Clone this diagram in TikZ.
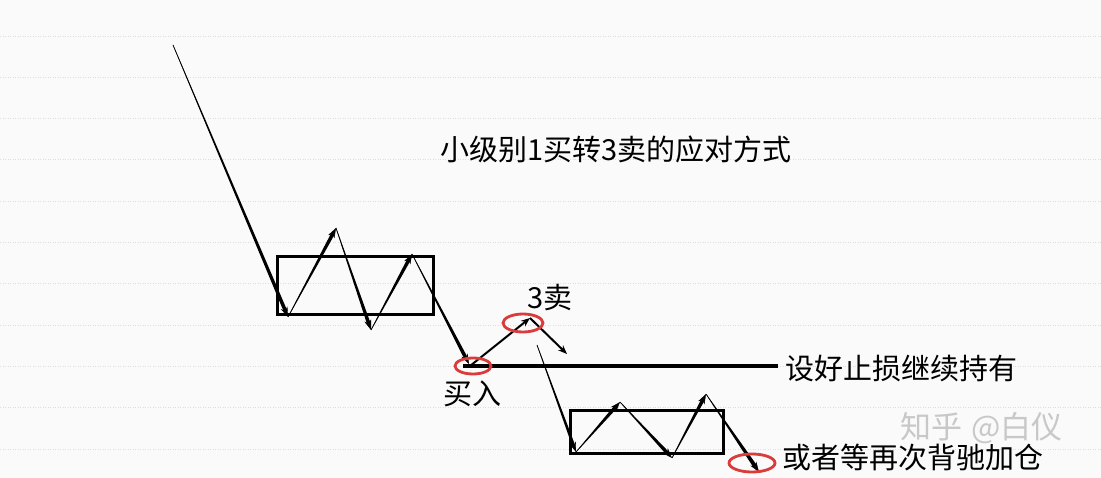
\documentclass[tikz,border=0pt]{standalone}
\usepackage{fontspec}
\setmainfont{Noto Sans CJK SC}
\usetikzlibrary{calc,arrows.meta}
\definecolor{bg}{RGB}{250,250,250}
\definecolor{gridc}{RGB}{222,222,222}
\definecolor{ring}{RGB}{218,60,60}
\definecolor{wm}{RGB}{200,200,200}
% tapered arrow: thin at start, #3 half-width near the end, arrow tip at end
\newcommand\taparrow[3]{%
  \coordinate (tmpE) at ($(#2)!7pt!(#1)$);
  \fill ($(#1)!0.3pt!90:(#2)$) -- ($(tmpE)!#3!-90:(#1)$) -- ($(tmpE)!#3!90:(#1)$) -- ($(#1)!0.3pt!-90:(#2)$) -- cycle;
  \draw[tiparrow] (#1) -- (#2);
}
\begin{document}
\begin{tikzpicture}[x=1pt,y=-1pt,
  tiparrow/.style={line width=0.4pt,-{Stealth[length=10pt,width=7pt]}},
  flatarrow/.style={line width=2pt,-{Stealth[length=9pt,width=7pt]}},
  boxline/.style={draw=black,line width=3pt},
  gridline/.style={draw=gridc,line width=0.8pt,dash pattern=on 1pt off 1.5pt},
  ringline/.style={draw=ring,line width=2.8pt},
  txt/.style={inner sep=0pt,anchor=west,font=\fontsize{29pt}{31pt}\selectfont},
  wmtxt/.style={inner sep=0pt,anchor=west,text=wm,font=\fontsize{31pt}{33pt}\selectfont}]
\useasboundingbox (0,0) rectangle (1101,478);
\fill[bg] (0,0) rectangle (1101,478);
% dotted grid
\foreach \k in {0,...,10}{
  \draw[gridline] (0,{36+41.3*\k}) -- (1101,{36+41.3*\k});
}
% watermark
\node[wmtxt] (wmark) at (900,428) {知乎\hspace{0.3em}@白仪};
% boxes
\draw[boxline] (277,257) rectangle (433,315);
\draw[boxline] (570,410) rectangle (723,453);
% stop line
\coordinate (s0) at (463,366);
\coordinate (s1) at (778,366);
\draw[line width=4pt] (s0) -- (s1);
% first chain
\coordinate (a0) at (173,45);
\coordinate (a1) at (288,317);
\coordinate (a2) at (336,228);
\coordinate (a3) at (371,330);
\coordinate (a4) at (412,254);
\coordinate (a5) at (469,364);
\taparrow{a0}{a1}{1.8pt}
\taparrow{a1}{a2}{1.8pt}
\taparrow{a2}{a3}{1.8pt}
\taparrow{a3}{a4}{1.8pt}
\taparrow{a4}{a5}{1.8pt}
% 3 sell bounce
\coordinate (b0) at (470,366);
\coordinate (b1) at (530,318);
\coordinate (b2) at (567,354);
\draw[flatarrow] (b0) -- (b1);
\draw[flatarrow] (b1) -- (b2);
% second chain
\coordinate (c0) at (537,345);
\coordinate (c1) at (576,452);
\coordinate (c2) at (620,402);
\coordinate (c3) at (672,458);
\coordinate (c4) at (706,394);
\coordinate (c5) at (759,472);
\taparrow{c0}{c1}{1.5pt}
\taparrow{c1}{c2}{1.8pt}
\taparrow{c2}{c3}{1.8pt}
\taparrow{c3}{c4}{1.8pt}
\taparrow{c4}{c5}{2pt}
% red rings
\draw[ringline] (473,366) ellipse [x radius=18,y radius=8];
\draw[ringline] (523,323) ellipse [x radius=20,y radius=9];
\draw[ringline] (752,463) ellipse [x radius=23,y radius=9];
% texts
\node[txt] (title) at (440,149) {小级别1买转3卖的应对方式};
\node[txt] (sell3) at (527,298) {3卖};
\node[txt] (buy) at (443,394) {买入};
\node[txt] (stop) at (785,369) {设好止损继续持有};
\node[txt] (add) at (782,457) {或者等再次背驰加仓};
\end{tikzpicture}
\end{document}
